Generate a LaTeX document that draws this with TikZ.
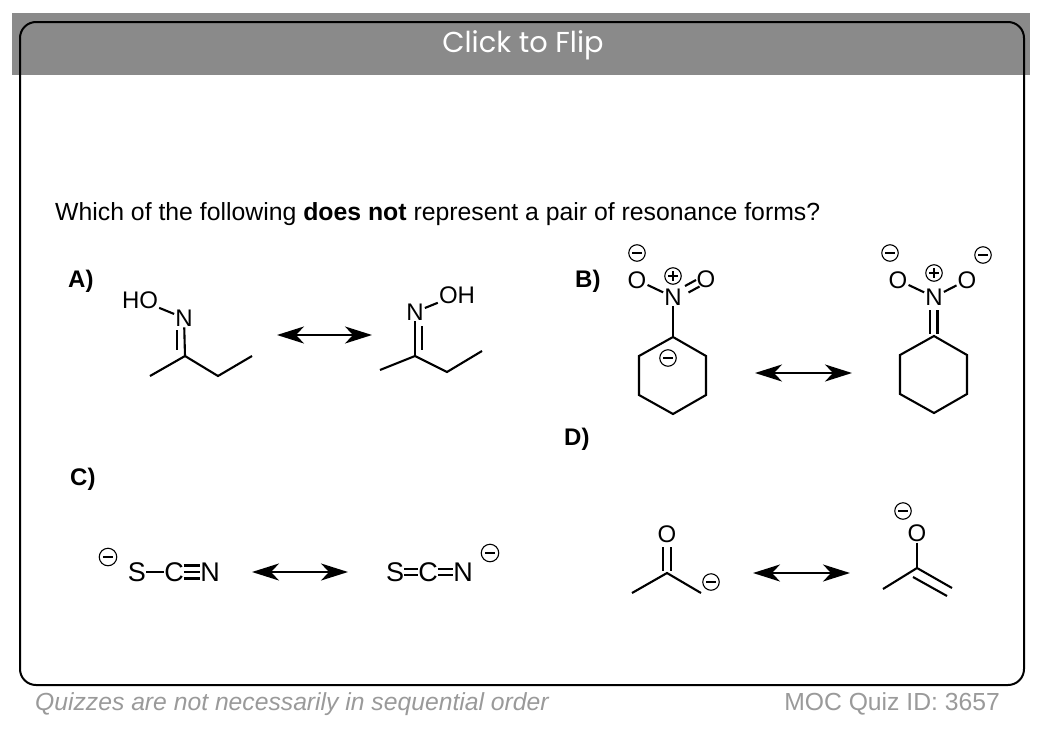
\documentclass[tikz,border=0pt]{standalone}
\usepackage{fontspec}
\setmainfont{Liberation Sans}
\newfontfamily\hdrfont{Poppins}
\usetikzlibrary{arrows.meta,calc}
\definecolor{bandgray}{HTML}{8A8A8A}
\definecolor{footgray}{HTML}{9A9A9A}
\begin{document}
\begin{tikzpicture}[x=1pt,y=-1pt,
  bond/.style={line width=2.1pt},
  atom/.style={font=\fontsize{24}{24}\selectfont, inner sep=1pt},
  catom/.style={font=\fontsize{27}{27}\selectfont, inner sep=0pt},
  lbl/.style={font=\fontsize{24}{24}\selectfont\bfseries, anchor=base west, inner sep=0pt},
  negchg/.style={circle, draw, line width=1.1pt, minimum size=16.5pt, inner sep=0pt,
    path picture={\draw[line width=1.5pt] ([xshift=-4.8pt]path picture bounding box.center) -- ([xshift=4.8pt]path picture bounding box.center);}},
  poschg/.style={circle, draw, line width=1.1pt, minimum size=16.5pt, inner sep=0pt,
    path picture={\draw[line width=1.5pt] ([xshift=-4.8pt]path picture bounding box.center) -- ([xshift=4.8pt]path picture bounding box.center);
      \draw[line width=1.5pt] ([yshift=-4.8pt]path picture bounding box.center) -- ([yshift=4.8pt]path picture bounding box.center);}},
  reso/.style={line width=2.2pt, {Stealth[length=27pt,width=17pt,inset=8pt]}-{Stealth[length=27pt,width=17pt,inset=8pt]}}
]
\useasboundingbox (0,0) rectangle (1038,728);
\fill[white] (0,0) rectangle (1038,728);
% header band and card
\fill[bandgray] (12,13) rectangle (1030,75);
\draw[line width=2pt, rounded corners=16pt] (20,22) rectangle (1024,685);
\node[white, font=\hdrfont\fontsize{28.8}{28.8}\selectfont] (title) at (523,45) {Click to Flip};

% question
\node[anchor=base west, inner sep=0pt, font=\fontsize{24.8}{24.8}\selectfont] (q) at (55,220)
  {Which of the following \textbf{does not} represent a pair of resonance forms?};

% labels
\node[lbl] (la) at (68,287) {A)};
\node[lbl] (lb) at (575,287) {B)};
\node[lbl] (lc) at (70,485) {C)};
\node[lbl] (ld) at (564,445) {D)};

% ---------- A left
\node[atom] (a1HO) at (140,300) {HO};
\node[atom] (a1N) at (184,318) {N};
\coordinate (a1C) at (185,356);
\coordinate (a1Me) at (150,376);
\coordinate (a1CH2) at (218,376);
\coordinate (a1CH3) at (252,356);
\draw[bond] (a1HO) -- (a1N);
\draw[bond] (a1N) -- (a1C);
\draw[bond] (177,330) -- (177,350);
\draw[bond] (a1Me) -- (a1C) -- (a1CH2) -- (a1CH3);

% A arrow
\coordinate (aL) at (277,335);
\coordinate (aR) at (372,335);
\draw[reso] (aL) -- (aR);

% ---------- A right
\node[atom] (a2N) at (415,312) {N};
\node[atom] (a2OH) at (457,295) {OH};
\coordinate (a2C) at (415,356);
\coordinate (a2Me) at (380,370);
\coordinate (a2CH2) at (447,372);
\coordinate (a2CH3) at (482,351);
\draw[bond] (a2N) -- (a2OH);
\draw[bond] (a2N) -- (a2C);
\draw[bond] (422,326) -- (422,350);
\draw[bond] (a2Me) -- (a2C) -- (a2CH2) -- (a2CH3);

% ---------- B left
\node[negchg] (b1m) at (637,253) {};
\node[atom] (b1O) at (637,280) {O};
\node[poschg] (b1p) at (673,276) {};
\node[atom] (b1N) at (673,297) {N};
\node[atom] (b1O2) at (706,279) {O};
\draw[bond] (b1O) -- (b1N);
\draw[bond] (685,286) -- (696,280);
\draw[bond] (688.5,292.5) -- (699.5,286.5);
\coordinate (b1r1) at (673,337);
\coordinate (b1r2) at (706,356);
\coordinate (b1r3) at (706,395);
\coordinate (b1r4) at (673,414);
\coordinate (b1r5) at (639,395);
\coordinate (b1r6) at (639,356);
\draw[bond] (b1N) -- (b1r1);
\draw[bond, line join=miter] (b1r1) -- (b1r2) -- (b1r3) -- (b1r4) -- (b1r5) -- (b1r6) -- cycle;
\node[negchg] (b1c) at (668,358) {};

% B arrow
\coordinate (bL) at (755,373);
\coordinate (bR) at (852,373);
\draw[reso] (bL) -- (bR);

% ---------- B right
\node[negchg] (b2m1) at (890,253) {};
\node[atom] (b2O1) at (898,280) {O};
\node[poschg] (b2p) at (934,273) {};
\node[atom] (b2N) at (934,297) {N};
\node[atom] (b2O2) at (967,280) {O};
\node[negchg] (b2m2) at (983,255) {};
\draw[bond] (b2O1) -- (b2N);
\draw[bond] (b2N) -- (b2O2);
\coordinate (b2r1) at (934,336);
\coordinate (b2r2) at (967,355);
\coordinate (b2r3) at (967,394);
\coordinate (b2r4) at (934,413);
\coordinate (b2r5) at (900,394);
\coordinate (b2r6) at (900,355);
\draw[bond] (930,310) -- (930,334);
\draw[bond] (937.5,310) -- (937.5,334);
\draw[bond, line join=miter] (b2r1) -- (b2r2) -- (b2r3) -- (b2r4) -- (b2r5) -- (b2r6) -- cycle;

% ---------- C left
\node[negchg, minimum size=17.5pt] (c1m) at (108,557) {};
\node[catom] (c1S) at (137,572) {S};
\node[catom] (c1C) at (174,572) {C};
\node[catom] (c1N) at (210,572) {N};
\draw[bond] (c1S) -- (c1C);
\draw[bond] ([yshift=6.5pt]c1C.east) -- ([yshift=6.5pt]c1N.west);
\draw[bond] (c1C) -- (c1N);
\draw[bond] ([yshift=-6.5pt]c1C.east) -- ([yshift=-6.5pt]c1N.west);

% C arrow
\coordinate (cL) at (252,572);
\coordinate (cR) at (348,572);
\draw[reso] (cL) -- (cR);

% ---------- C right
\node[catom] (c2S) at (395,572) {S};
\node[catom] (c2C) at (428,572) {C};
\node[catom] (c2N) at (463,572) {N};
\node[negchg, minimum size=17.5pt] (c2m) at (490,553) {};
\draw[bond] ([yshift=3.3pt]c2S.east) -- ([yshift=3.3pt]c2C.west);
\draw[bond] ([yshift=-3.3pt]c2S.east) -- ([yshift=-3.3pt]c2C.west);
\draw[bond] ([yshift=3.3pt]c2C.east) -- ([yshift=3.3pt]c2N.west);
\draw[bond] ([yshift=-3.3pt]c2C.east) -- ([yshift=-3.3pt]c2N.west);

% ---------- D left
\node[atom] (d1O) at (667,534) {O};
\coordinate (d1C) at (667,573);
\coordinate (d1Me) at (632,593);
\coordinate (d1CH2) at (701,593);
\draw[bond] (663,547) -- (663,571);
\draw[bond] (671,547) -- (671,571);
\draw[bond] (d1Me) -- (d1C) -- (d1CH2);
\node[negchg] (d1m) at (711,582) {};

% D arrow
\coordinate (dL) at (753,573);
\coordinate (dR) at (850,573);
\draw[reso] (dL) -- (dR);

% ---------- D right
\node[negchg] (d2m) at (903,511) {};
\node[atom] (d2O) at (917,533) {O};
\coordinate (d2C) at (917,568);
\coordinate (d2Me) at (883,589);
\coordinate (d2CH2) at (952,588);
\draw[bond] (d2O) -- (d2C);
\draw[bond] (d2Me) -- (d2C) -- (d2CH2);
\draw[bond] (913,577) -- (947,596);

% footer
\node[anchor=base west, inner sep=0pt, footgray, font=\fontsize{24.7}{24.7}\selectfont\itshape] (f1) at (35,710)
  {Quizzes are not necessarily in sequential order};
\node[anchor=base east, inner sep=0pt, footgray, font=\fontsize{24.7}{24.7}\selectfont] (f2) at (1000,710)
  {MOC Quiz ID: 3657};
\end{tikzpicture}
\end{document}
